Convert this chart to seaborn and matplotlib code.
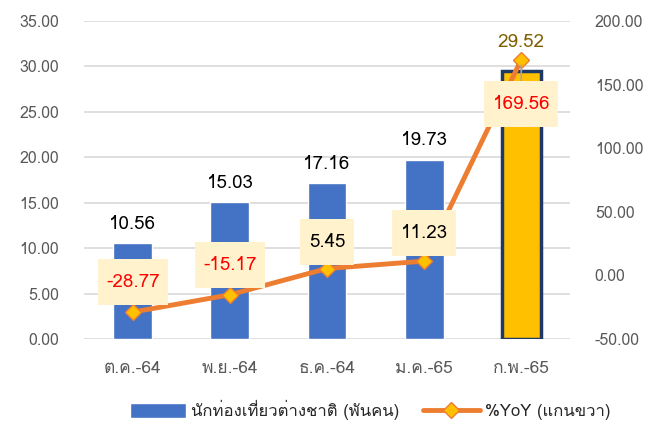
import matplotlib
matplotlib.use('Agg')
import matplotlib.pyplot as plt
import seaborn as sns
import pandas as pd
from matplotlib import font_manager
from matplotlib.ft2font import FT2Font
from matplotlib.lines import Line2D
from matplotlib.patches import Patch
from matplotlib.path import Path
from matplotlib.ticker import FormatStrFormatter

months = ['ต.ค.-64', 'พ.ย.-64', 'ธ.ค.-64', 'ม.ค.-65', 'ก.พ.-65']
tourists = [10.56, 15.03, 17.16, 19.73, 29.52]
yoy = [-28.77, -15.17, 5.45, 11.23, 169.56]
bar_name = 'นักท่องเที่ยวต่างชาติ (พันคน)'
line_name = '%YoY (แกนขวา)'


def thai_font():
    # pick an installed font that has Thai glyphs
    for f in font_manager.fontManager.ttflist:
        try:
            if ord('ก') in FT2Font(f.fname).get_charmap():
                return f.name
        except Exception:
            pass
    return None


def label_box(x0, y0, width, height, mutation_size):
    # Excel-like label box: more padding top/bottom than left/right
    px, py = 0.45 * mutation_size, 0.75 * mutation_size
    x1, y1 = x0 + width + px, y0 + height + py
    x0, y0 = x0 - px, y0 - py
    return Path([(x0, y0), (x1, y0), (x1, y1), (x0, y1), (x0, y0)],
                closed=True)


sns.set_style('white')
fam = thai_font()
plt.rcParams['font.family'] = ([fam] if fam else []) + ['DejaVu Sans']

df = pd.DataFrame({'month': months, 'tourists': tourists, 'yoy': yoy})

fig = plt.figure(figsize=(6.58, 4.26), dpi=100)
ax = fig.add_axes([0.128, 0.204, 0.738, 0.747])

colors = ['#4472C4'] * 4 + ['#FFC000']
sns.barplot(data=df, x='month', y='tourists', hue='month', palette=colors,
            saturation=1, legend=False, width=0.4, ax=ax, zorder=2)
last = ax.patches[-1]
last.set_edgecolor('#203864')
last.set_linewidth(2.5)

ax.set_ylim(0, 35)
ax.set_xlim(-0.5, 4.5)
ax.set_yticks(range(0, 36, 5))
ax.yaxis.set_major_formatter(FormatStrFormatter('%.2f'))
ax.grid(axis='y', color='#D9D9D9', linewidth=1.2, zorder=0)
ax.set_axisbelow(True)
ax.set_xlabel('')
ax.set_ylabel('')
for s in ['top', 'right', 'left', 'bottom']:
    ax.spines[s].set_visible(False)
ax.tick_params(axis='y', colors='#595959', labelsize=11.5, length=0, pad=18)
ax.tick_params(axis='x', colors='#595959', labelsize=12.5, length=0, pad=16)

bar_off = [14, 14, 14, 14, 21]
for i, v in enumerate(tourists):
    c = '#7F6000' if i == 4 else 'black'
    ax.annotate(f'{v:.2f}', (i, v), xytext=(0, bar_off[i]), textcoords='offset points',
                ha='center', va='center', fontsize=13.5, color=c)

ax2 = ax.twinx()
sns.lineplot(data=df, x='month', y='yoy', ax=ax2, color='#ED7D31', linewidth=3.5,
             marker='D', markersize=8, markerfacecolor='#FFC000',
             markeredgecolor='#ED7D31', markeredgewidth=1, sort=False, zorder=3)
ax2.set_ylim(-50, 200)
ax2.set_yticks(range(-50, 201, 50))
ax2.yaxis.set_major_formatter(FormatStrFormatter('%.2f'))
ax2.set_ylabel('')
ax2.set_xlabel('')
for s in ['top', 'right', 'left', 'bottom']:
    ax2.spines[s].set_visible(False)
ax2.tick_params(axis='y', colors='#595959', labelsize=11.5, length=0, pad=18)

box = dict(boxstyle=label_box, facecolor='#FFF2CC', edgecolor='none')
offsets = [(0, 21.5), (0, 21.5), (0, 19), (0, 20), (0, -32)]
for i, v in enumerate(yoy):
    c = 'black' if i in (2, 3) else '#FF0000'
    kw = {}
    if i == 4:
        kw['arrowprops'] = dict(arrowstyle='-', color='#A6A6A6', lw=1.2,
                                shrinkA=0, shrinkB=4)
    ax2.annotate(f'{v:.2f}', (i, v), xytext=offsets[i], textcoords='offset points',
                 ha='center', va='center', fontsize=13.5, color=c, bbox=box,
                 zorder=4, **kw)

handles = [Patch(facecolor='#4472C4'),
           Line2D([], [], color='#ED7D31', linewidth=3.5, marker='D', markersize=8,
                  markerfacecolor='#FFC000', markeredgecolor='#ED7D31')]
fig.legend(handles, [bar_name, line_name], loc='lower center',
           bbox_to_anchor=(0.562, -0.022), ncol=2, frameon=False, fontsize=12,
           handlelength=3.4, handleheight=1.0, columnspacing=1.4,
           handletextpad=0.3)

fig.savefig('out.png', dpi=100)
